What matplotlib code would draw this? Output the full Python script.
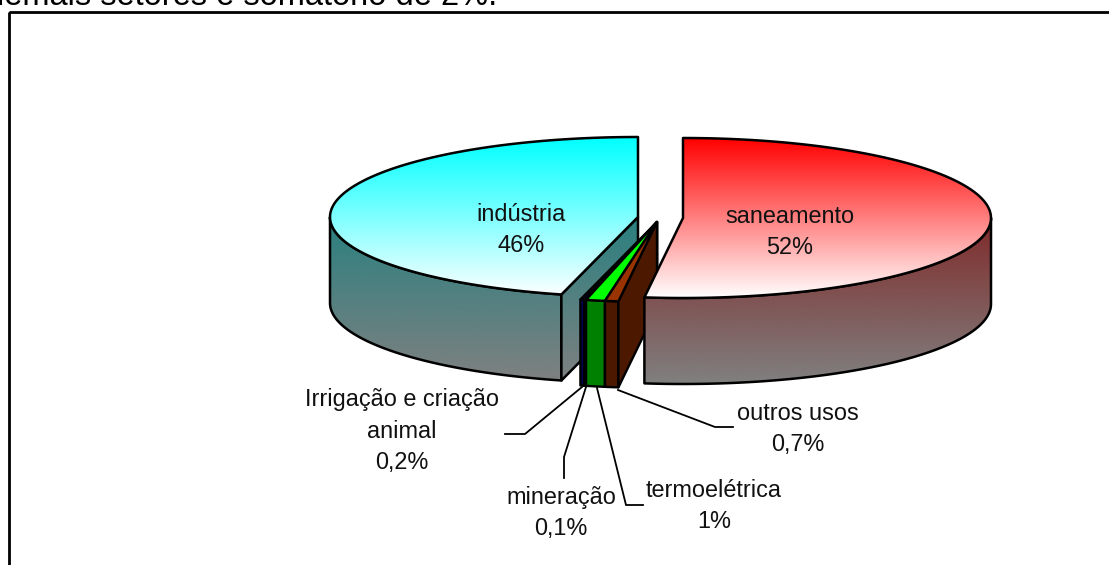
#!/usr/bin/env python3

import numpy as np
import matplotlib
matplotlib.use('Agg')
import matplotlib.pyplot as plt
from matplotlib.patches import Polygon, Rectangle

plt.rcParams['font.family'] = ['Liberation Sans', 'DejaVu Sans']

# clockwise from 12 o'clock
sectors = ['saneamento', 'outros usos', 'termoelétrica', 'mineração', 'Irrigação e criação\nanimal', 'indústria']
shares = [52, 0.7, 1, 0.1, 0.2, 46]
share_labels = ['52%', '0,7%', '1%', '0,1%', '0,2%', '46%']
caption = 'demais setores e somatório de 2%.'

RX, RY, DEPTH = 308, 80, 86
centers = [(683, 218), (657, 222), (657, 222), (657, 222), (657, 222), (638, 217)]
top_colors = ['#ff0000', '#993300', '#00ff00', '#000000', '#000080', '#00ffff']
side_colors = ['#800000', '#4c1900', '#008000', '#000000', '#000060', '#008080']


def rim(cx, cy, a0, a1, n=120):
    t = np.radians(np.linspace(a0, a1, n))
    return np.column_stack([cx + RX * np.sin(t), cy - RY * np.cos(t)])


def gradient(ax, poly, c0, c1, y0, y1, z):
    c0 = np.array(matplotlib.colors.to_rgb(c0))
    c1 = np.array(matplotlib.colors.to_rgb(c1))
    f = np.linspace(0, 1, 256)[:, None, None]
    img = c0[None, None, :] * (1 - f) + c1[None, None, :] * f
    x0, x1 = poly[:, 0].min(), poly[:, 0].max()
    p = Polygon(poly, closed=True, fc='none', ec='none', zorder=z)
    ax.add_patch(p)
    im = ax.imshow(img, extent=(x0, x1, y1, y0), aspect='auto', zorder=z, interpolation='bilinear')
    im.set_clip_path(p)
    ax.add_patch(Polygon(poly, closed=True, fc='none', ec='black', lw=1.8, zorder=z + 0.5, joinstyle='round'))


def solid(ax, poly, color, z):
    ax.add_patch(Polygon(poly, closed=True, fc=color, ec='black', lw=1.7, zorder=z, joinstyle='round'))


def draw_slice(ax, i, a0, a1, z):
    cx, cy = centers[i]
    # outer wall, only the part facing the viewer
    s0, s1 = max(a0, 90), min(a1, 270)
    big = shares[i] > 10
    if s1 > s0:
        arc = rim(cx, cy, s0, s1)
        wall = np.vstack([arc, arc[::-1] + [0, DEPTH]])
        if big:
            gradient(ax, wall, side_colors[i], '#808080', cy - RY, cy + RY + DEPTH, z)
        else:
            solid(ax, wall, side_colors[i], z)
    # cut wall on the right hand side of a slice
    if a0 > 180:
        end = rim(cx, cy, a0, a0, 1)[0]
        cut = np.array([[cx, cy], end, end + [0, DEPTH], [cx, cy + DEPTH]])
        if big:
            gradient(ax, cut, side_colors[i], '#808080', cy - RY, cy + RY + DEPTH, z + 1)
        else:
            solid(ax, cut, side_colors[i], z + 1)
    face = np.vstack([[cx, cy], rim(cx, cy, a0, a1)])
    if big:
        gradient(ax, face, top_colors[i], '#ffffff', cy - RY, cy + RY, z + 2)
    else:
        solid(ax, face, top_colors[i], z + 2)


def main():
    fig = plt.figure(figsize=(11.09, 5.65), dpi=100)
    ax = fig.add_axes([0, 0, 1, 1])

    edges = np.concatenate([[0], np.cumsum(shares)]) * 360.0 / sum(shares)

    # back to front: indústria, small slices from the left, saneamento on top
    draw_slice(ax, 5, edges[5], edges[6], 5)
    for k, i in enumerate([4, 3, 2, 1]):
        draw_slice(ax, i, edges[i], edges[i + 1], 10 + 5 * k)
    draw_slice(ax, 0, edges[0], edges[1], 40)

    # frame runs off the right and bottom of the picture
    ax.add_patch(Rectangle((9, 12), 1200, 700, fc='none', ec='black', lw=2.0, zorder=1))

    # leader lines
    leaders = [
        ([618, 715, 733], [390, 427, 427]),
        ([597, 626, 643], [388, 505, 505]),
        ([586, 564, 564], [387, 457, 478]),
        ([582, 525, 505], [387, 434, 434]),
    ]
    for xs, ys in leaders:
        ax.plot(xs, ys, color='black', lw=1.3, zorder=60, solid_joinstyle='miter')

    fs = 16.9
    label_pos = {0: (790, 232), 1: (798, 429), 2: (714, 506), 3: (561, 513), 4: (402, 431), 5: (521, 230)}
    for i, (x, y) in label_pos.items():
        ax.text(x, y, sectors[i] + '\n' + share_labels[i], ha='center', va='center',
                fontsize=fs, linespacing=1.45, color='#111111', zorder=70)

    ax.text(-14, 5, caption, ha='left', va='baseline', fontsize=23.5, color='black', zorder=70)

    ax.set_xlim(0, 1109)
    ax.set_ylim(565, 0)
    ax.axis('off')
    fig.savefig('out.png', dpi=100, facecolor='white')


if __name__ == "__main__":
    main()
